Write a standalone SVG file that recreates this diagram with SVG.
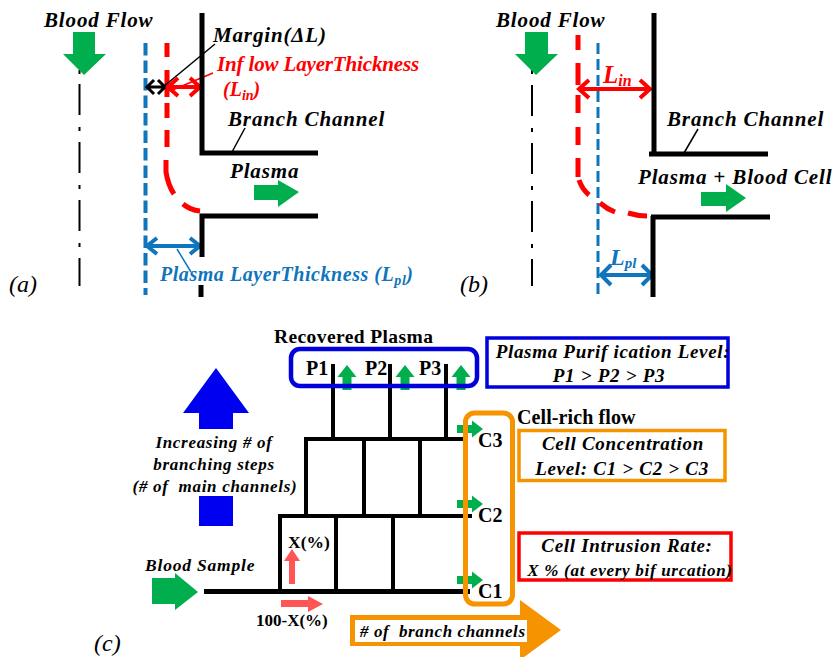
<svg xmlns="http://www.w3.org/2000/svg" width="834" height="657" viewBox="0 0 834 657">
<style>
text{font-family:"Liberation Serif",serif;font-weight:bold;fill:#000}
.i{font-style:italic}
.t{font-size:21px;letter-spacing:.85px}
.w{fill:none;stroke:#000;stroke-width:5}
.w3{fill:none;stroke:#000;stroke-width:4}
.cl{fill:none;stroke:#000;stroke-width:2;stroke-dasharray:31 12 4 11}
.rd{fill:none;stroke:#f00;stroke-width:5}
.g{fill:#00ae4d}
.s{fill:#f55}
.bl{fill:#0000f0}
.lbl{fill:#fff;stroke:none}
.r{font-weight:normal;font-style:italic;font-size:24px}
</style>
<defs>
<g id="up"><path class="g" d="M-4.500 21V8H-9.500L0 -4L9.500 8H4.500V21Z"/></g>
<g id="rt"><path class="g" d="M0 -4H15V-8.500L26 0L15 8.500V4H0Z"/></g>
</defs>
<g id="connectors">
<path class="cl" d="M79.500 84V286"/>
<path d="M79.500 70V74" stroke="#000" stroke-width="2"/>
<path class="cl" d="M532 85V286"/>
<path d="M532 70V74" stroke="#000" stroke-width="2"/>
<path fill="none" stroke="#0f75bd" stroke-width="4" stroke-dasharray="12.500 5" d="M145.500 43V295"/>
<path fill="none" stroke="#0f75bd" stroke-width="3" stroke-dasharray="11 5" d="M598 43V295"/>
<path class="rd" d="M167 43V57M167 70V97M167 103V118M167 130V147M166 160V172Q168 185 174 194M183 204Q190 210 200 211"/>
<path class="rd" d="M578 35V50M578 63V85M578 95V113M578 127V145M578 158V177M579 180Q582 189 589 195M600 203Q607 209 615 212M628 213Q638 216 647 216"/>
<path d="M215 44L163 87" stroke="#000" stroke-width="1.500" fill="none"/>
<path d="M213 73L170 91" stroke="#f00" stroke-width="1.500" fill="none"/>
<path d="M245 128L232 152" stroke="#000" stroke-width="1.500" fill="none"/>
<path d="M698 129L684 153" stroke="#000" stroke-width="1.500" fill="none"/>
<path d="M177 249L191 272" stroke="#0f75bd" stroke-width="1.500" fill="none"/>
<g fill="none" stroke-width="4">
<path d="M147 87H165M154 80L147 87L154 94M158 80L165 87L158 94" stroke="#000" stroke-width="3"/>
<path d="M168 87H200M178 78L168 87L178 96M190 78L200 87L190 96" stroke="#f00"/>
<path d="M147 246H200M157 238L147 246L157 254M190 238L200 246L190 254" stroke="#0f75bd"/>
<path d="M579 89H650M589 80L579 89L589 98M640 80L650 89L640 98" stroke="#f00"/>
<path d="M601 275H652M611 265L601 275L611 285M642 265L652 275L642 285" stroke="#0f75bd"/>
</g>
</g>
<g id="panel-a">
<text class="t i" x="44" y="27">Blood Flow</text>
<path class="g" d="M73 32H95V54H106L84 75L63 54H73Z"/>
<path class="w" d="M202 13V153H318"/>
<path class="w" d="M318 216H202V257"/>
<path class="w" d="M201 285V297"/>
<text class="t i" x="213" y="42">Margin(ΔL)</text>
<text class="t i" x="217" y="71" style="fill:#f00" textLength="203">Inf low LayerThickness</text>
<text class="i" x="223" y="96" font-size="20" style="fill:#f00">(L<tspan font-size="14" dy="4">in</tspan><tspan dy="-4">)</tspan></text>
<text class="t i" x="228" y="126">Branch Channel</text>
<text class="t i" x="230" y="178">Plasma</text>
<path class="g" d="M254 185H278V180L299 192L278 207V200H254Z"/>
<text class="i" x="160" y="281" font-size="20" style="fill:#0f75bd" textLength="253">Plasma LayerThickness (L<tspan font-size="14" dy="4">pl</tspan><tspan dy="-4">)</tspan></text>
<text class="r" x="9" y="292">(a)</text>
</g>
<g id="panel-b">
<text class="t i" x="496" y="27">Blood Flow</text>
<path class="g" d="M525 32H548V54H558L536 75L515 54H525Z"/>
<path class="w" d="M654 13V153"/>
<path class="w" d="M649 154H768"/>
<path class="w" d="M651 217H770"/>
<path class="w" d="M653 216V297"/>
<text class="i" x="603" y="83" font-size="25" style="fill:#f00">L<tspan font-size="16" dy="3">in</tspan></text>
<text class="t i" x="667" y="126">Branch Channel</text>
<text class="t i" x="638" y="184">Plasma + Blood Cell</text>
<path class="g" d="M701 192H726V184L746 198L726 212V206H701Z"/>
<text class="i" x="610" y="265" font-size="24" style="fill:#0f75bd">L<tspan font-size="15" dy="3">pl</tspan></text>
<text class="r" x="460" y="292">(b)</text>
</g>
<g id="panel-c">
<path class="w3" d="M333 364V439M390 364V439M446 364V439"/>
<path class="w3" d="M304 439H463"/>
<path class="w3" d="M306 439V516M364 439V516M420 439V516"/>
<path class="w3" d="M278 516H472"/>
<path class="w3" d="M280 516V591M336 516V591M393 516V591"/>
<path class="w" d="M204 591.500H470"/>
<use href="#up" x="347" y="369"/>
<use href="#up" x="405" y="369"/>
<use href="#up" x="461" y="369"/>
<use href="#rt" x="457" y="429"/>
<use href="#rt" x="457" y="504"/>
<use href="#rt" x="457" y="580"/>
<rect x="291" y="349" width="186" height="37" rx="9" fill="none" stroke="#0000dc" stroke-width="4.500"/>
<rect x="465.500" y="413" width="47" height="191" rx="9" fill="none" stroke="#f59400" stroke-width="5"/>
<text x="274" y="343" font-size="19.500" letter-spacing=".4">Recovered Plasma</text>
<text x="306" y="375" font-size="20">P1</text>
<text x="365" y="375" font-size="20">P2</text>
<text x="419" y="375" font-size="20">P3</text>
<text x="478" y="447" font-size="20">C3</text>
<text x="478" y="522" font-size="20">C2</text>
<text x="478" y="598" font-size="20">C1</text>
<path class="bl" d="M216 368L249 413H233V429H199V413H183Z"/>
<rect class="bl" x="199" y="496" width="34" height="30"/>
<g class="i" font-size="17" text-anchor="middle" letter-spacing=".7">
<text x="214" y="448">Increasing # of</text>
<text x="214" y="470">branching steps</text>
<text x="215" y="492">(# of&#160; main channels)</text>
</g>
<text class="i" x="145" y="571" font-size="17.500" letter-spacing=".8">Blood Sample</text>
<path class="g" d="M152 578H175V573L198 592L175 610V604H152Z"/>
<text x="288" y="548" font-size="17.500">X(%)</text>
<path class="s" d="M289 584V561H284L292 549L300 561H295V584Z"/>
<path class="s" d="M281 600H308V596L323 604L308 612V607H281Z"/>
<text x="256" y="626" font-size="17">100-X(%)</text>
<path fill="#f59400" d="M350 615H520V600L561 630L520 660V646H350Z"/>
<rect class="lbl" x="355" y="620" width="172" height="22"/>
<text class="i" x="360" y="637" font-size="17" letter-spacing=".6"># of&#160; branch channels</text>
<text x="517" y="424" font-size="20" letter-spacing=".1">Cell-rich flow</text>
</g>
<g id="box-plasma">
<rect x="487" y="338" width="241" height="49" fill="none" stroke="#0000dc" stroke-width="3.500"/>
<g class="i" font-size="19" text-anchor="middle" letter-spacing=".7">
<text x="613" y="358">Plasma Purif ication Level:</text>
<text x="609" y="382">P1 &gt; P2 &gt; P3</text>
</g>
</g>
<g id="box-cell">
<rect x="519" y="430.500" width="206" height="50" fill="none" stroke="#f59400" stroke-width="3.500"/>
<g class="i" font-size="19" text-anchor="middle" letter-spacing=".7">
<text x="623" y="450">Cell Concentration</text>
<text x="622" y="475">Level: C1 &gt; C2 &gt; C3</text>
</g>
</g>
<g id="box-intrusion">
<rect x="519" y="533" width="212" height="47" fill="none" stroke="#f00" stroke-width="3.500"/>
<text class="i" x="627" y="552" font-size="19" text-anchor="middle" letter-spacing=".7">Cell Intrusion Rate:</text>
<text class="i" x="630" y="576" font-size="17" text-anchor="middle" letter-spacing=".7">X % (at every bif urcation)</text>
</g>
<text class="r" x="94" y="651">(c)</text>
</svg>
